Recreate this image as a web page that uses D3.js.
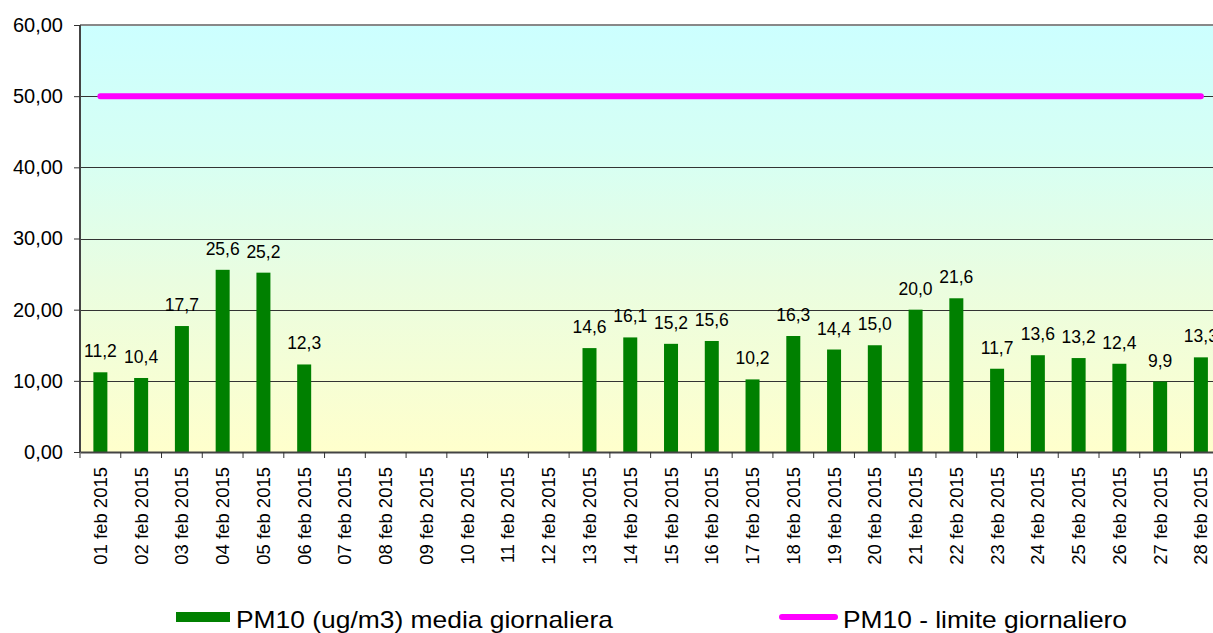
<!DOCTYPE html>
<html><head><meta charset="utf-8">
<script src="https://cdn.jsdelivr.net/npm/d3@7"></script>
<style>body{margin:0;background:#fff;}svg{display:block;font-family:Arial,"Liberation Sans",sans-serif;}</style>
</head><body><svg id="c" width="1213" height="633"></svg>
<script>
const days = ["01","02","03","04","05","06","07","08","09","10","11","12","13","14","15","16","17","18","19","20","21","22","23","24","25","26","27","28"];
const categories = days.map(d => d + " feb 2015");
const pm10 = [11.2,10.4,17.7,25.6,25.2,12.3,null,null,null,null,null,null,14.6,16.1,15.2,15.6,10.2,16.3,14.4,15.0,20.0,21.6,11.7,13.6,13.2,12.4,9.9,13.3];
const limit = categories.map(() => 50);
const yTicks = [0,10,20,30,40,50,60];
const seriesNames = ["PM10 (ug/m3) media giornaliera", "PM10 - limite giornaliero"];

(function(){
const svg = d3.select("#c");
const FONT = "Arial, 'Liberation Sans', sans-serif";
const pL = 80, pT = 25, pB = 452, bandW = 40.76;
const pR = pL + bandW * categories.length;
const x = d3.scaleBand().domain(categories).range([pL, pR]).paddingInner(0).paddingOuter(0);
const y = d3.scaleLinear().domain([0, 60]).range([pB, pT]);
const fmt = v => d3.format(".1f")(v).replace(".", ",");
const fmt2 = v => d3.format(".2f")(v).replace(".", ",");

const defs = svg.append("defs");
const grad = defs.append("linearGradient").attr("id","bg").attr("x1",0).attr("y1",0).attr("x2",0).attr("y2",1);
grad.append("stop").attr("offset","0%").attr("stop-color","#ccffff");
grad.append("stop").attr("offset","30%").attr("stop-color","#d6fff4");
grad.append("stop").attr("offset","60%").attr("stop-color","#eafde0");
grad.append("stop").attr("offset","100%").attr("stop-color","#ffffcc");
svg.append("rect").attr("x",pL).attr("y",pT).attr("width",pR-pL).attr("height",pB-pT).attr("fill","url(#bg)");

svg.append("g").selectAll("line").data(yTicks.filter(t => t>0 && t<60)).join("line")
  .attr("x1",pL).attr("x2",pR).attr("y1",d=>Math.round(y(d))+0.5).attr("y2",d=>Math.round(y(d))+0.5)
  .attr("stroke","#333").attr("stroke-width",1);
svg.append("line").attr("x1",pL).attr("x2",pR).attr("y1",pT).attr("y2",pT).attr("stroke","#888").attr("stroke-width",2);

const barW = 14;
const barData = categories.map((c,i)=>({c,v:pm10[i]})).filter(d=>d.v!=null);
svg.append("g").selectAll("rect").data(barData).join("rect")
  .attr("x",d=>x(d.c)+x.bandwidth()/2-barW/2).attr("width",barW)
  .attr("y",d=>y(d.v)).attr("height",d=>pB-y(d.v)).attr("fill","#008000");

svg.append("g").selectAll("text").data(barData).join("text")
  .attr("x",d=>x(d.c)+x.bandwidth()/2).attr("y",d=>y(d.v)-15)
  .attr("text-anchor","middle").attr("font-size",17.5).attr("fill","#000").text(d=>fmt(d.v));

const line = d3.line().x((d,i)=>x(categories[i])+x.bandwidth()/2).y(d=>y(d));
svg.append("path").datum(limit).attr("d",line).attr("fill","none").attr("stroke","#ff00ff").attr("stroke-width",6).attr("stroke-linecap","round");

const yAxis = d3.axisLeft(y).tickValues(yTicks).tickFormat(fmt2).tickSize(6).tickPadding(11);
const gy = svg.append("g").attr("transform",`translate(${pL},0)`).call(yAxis);
gy.select(".domain").attr("stroke","#444").attr("stroke-width",2).attr("d",`M0,${pT}V${pB}`);
gy.selectAll(".tick line").attr("stroke","#333");
gy.selectAll(".tick text").attr("font-size",20).attr("font-family",FONT).attr("fill","#000");

const xAxis = d3.axisBottom(x).tickSize(0).tickPadding(0);
const gx = svg.append("g").attr("transform",`translate(0,${pB})`).call(xAxis);
gx.select(".domain").attr("stroke","#444").attr("stroke-width",2);
gx.selectAll(".tick text").attr("font-size",18.5).attr("font-family",FONT).attr("fill","#000")
  .attr("text-anchor","end").attr("transform","rotate(-90)").attr("x",-15).attr("y",0).attr("dy","0.35em");
svg.append("g").selectAll("line").data(d3.range(categories.length+1)).join("line")
  .attr("x1",i=>pL+i*bandW).attr("x2",i=>pL+i*bandW).attr("y1",pB).attr("y2",pB+6)
  .attr("stroke","#333").attr("stroke-width",1);

const lg = svg.append("g");
lg.append("rect").attr("x",176).attr("y",612).attr("width",54).attr("height",10).attr("fill","#008000");
lg.append("text").attr("x",236).attr("y",628).attr("font-size",24).attr("fill","#000")
  .attr("textLength",377).attr("lengthAdjust","spacingAndGlyphs").text(seriesNames[0]);
lg.append("line").attr("x1",782).attr("x2",835).attr("y1",617).attr("y2",617).attr("stroke","#ff00ff").attr("stroke-width",6).attr("stroke-linecap","round");
lg.append("text").attr("x",843).attr("y",628).attr("font-size",24).attr("fill","#000")
  .attr("textLength",284).attr("lengthAdjust","spacingAndGlyphs").text(seriesNames[1]);
})();
</script></body></html>
